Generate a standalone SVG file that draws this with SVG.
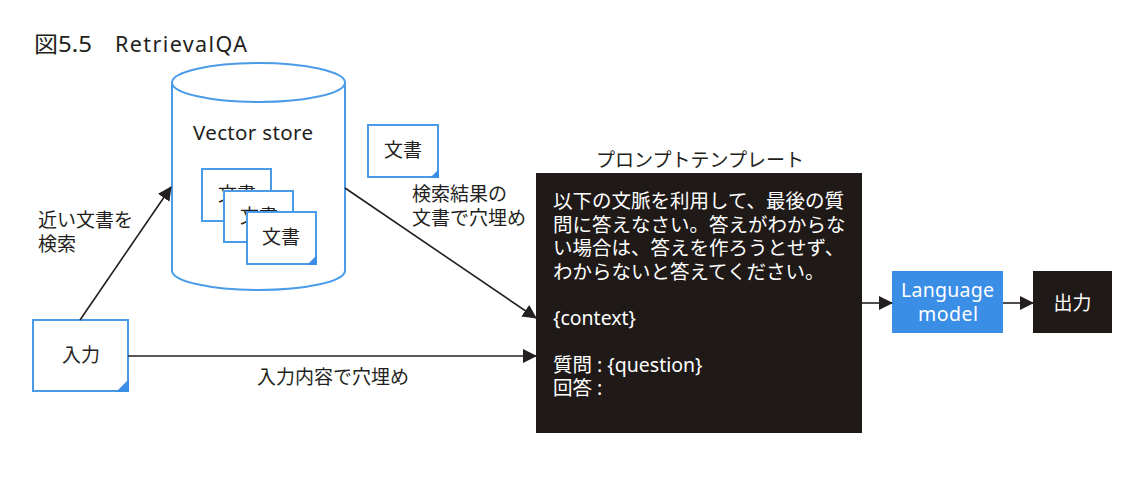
<svg xmlns="http://www.w3.org/2000/svg" width="1142" height="496" viewBox="0 0 1142 496">
<style>
text{font-family:"Noto Sans","Noto Sans CJK JP",sans-serif;fill:#231f20;font-size:19px}
.w{fill:#ffffff}
.doc{fill:#ffffff;stroke:#4a9be8;stroke-width:2}
.fold{fill:#3a8ee6}
.cyl{fill:#ffffff;stroke:#4a9be8;stroke-width:2}
.con{stroke:#231f20;stroke-width:1.6;fill:none;marker-end:url(#ah)}
.c{text-anchor:middle}
</style>
<defs>
<marker id="ah" markerUnits="userSpaceOnUse" markerWidth="14" markerHeight="14" refX="13" refY="7" orient="auto">
<path d="M0,0 L14,7 L0,14 z" fill="#231f20"/>
</marker>
</defs>
<rect width="1142" height="496" fill="#ffffff"/>
<text x="34" y="52" fill="#333333" style="font-size:21.5px"><tspan x="34" textLength="58" lengthAdjust="spacingAndGlyphs">図5.5</tspan><tspan x="115" textLength="132" lengthAdjust="spacing">RetrievalQA</tspan></text>

<g id="vectorstore">
<path class="cyl" d="M172,82.5 L172,270.5 A86.5,19.5 0 0 0 345,270.5 L345,82.5"/>
<ellipse class="cyl" cx="258.5" cy="82.5" rx="86.5" ry="19.5"/>
<text x="193" y="140" style="font-size:20.5px" textLength="120" lengthAdjust="spacing">Vector store</text>
<g id="doc-a">
<rect class="doc" x="202" y="169" width="69" height="52"/>
<text x="237" y="201" class="c">文書</text>
</g>
<g id="doc-b">
<rect class="doc" x="224" y="191" width="69" height="51"/>
<text x="259" y="223" class="c">文書</text>
</g>
<g id="doc-c">
<rect class="doc" x="247" y="212" width="69" height="52"/>
<path class="fold" d="M307,265 L317,265 L317,255 z"/>
<text x="281" y="244" class="c">文書</text>
</g>
</g>

<g id="input">
<rect class="doc" x="33" y="320" width="95" height="71"/>
<path class="fold" d="M116,392 L129,392 L129,379 z"/>
<text x="81" y="362" class="c">入力</text>
</g>

<g id="doc-result">
<rect class="doc" x="368" y="125" width="70" height="52"/>
<path class="fold" d="M430,178 L439,178 L439,169 z"/>
<text x="403" y="157" class="c">文書</text>
</g>

<g id="prompt">
<text x="700" y="167" class="c">プロンプトテンプレート</text>
<rect x="536" y="173" width="326" height="260" fill="#1f1a17"/>
<text class="w" style="font-size:19.5px"><tspan x="553" y="208">以下の文脈を利用して、最後の質</tspan><tspan x="553" y="231.5">問に答えなさい。答えがわからな</tspan><tspan x="553" y="255">い場合は、答えを作ろうとせず、</tspan><tspan x="553" y="278.5">わからないと答えてください。</tspan><tspan x="553" y="325">{context}</tspan><tspan x="553" y="372">質問 : {question}</tspan><tspan x="553" y="395">回答 :</tspan></text>
</g>

<g id="llm">
<rect x="892" y="271" width="111" height="62" fill="#3a8ee6"/>
<text class="w" style="font-size:19.5px"><tspan x="901" y="297" textLength="93" lengthAdjust="spacing">Language</tspan><tspan x="918" y="321" textLength="60" lengthAdjust="spacing">model</tspan></text>
</g>

<g id="output">
<rect x="1033" y="271" width="79" height="62" fill="#1f1a17"/>
<text x="1072.5" y="310" class="c w">出力</text>
</g>

<g id="connectors">
<line class="con" x1="80" y1="320" x2="171" y2="187"/>
<line class="con" x1="345" y1="188" x2="536" y2="318"/>
<line class="con" x1="128" y1="356" x2="536" y2="356"/>
<line class="con" x1="862" y1="303" x2="892" y2="303"/>
<line class="con" x1="1003" y1="303" x2="1033" y2="303"/>
<text><tspan x="38" y="227">近い文書を</tspan><tspan x="38" y="251">検索</tspan></text>
<text><tspan x="412" y="201">検索結果の</tspan><tspan x="412" y="225">文書で穴埋め</tspan></text>
<text x="257" y="384">入力内容で穴埋め</text>
</g>
</svg>
